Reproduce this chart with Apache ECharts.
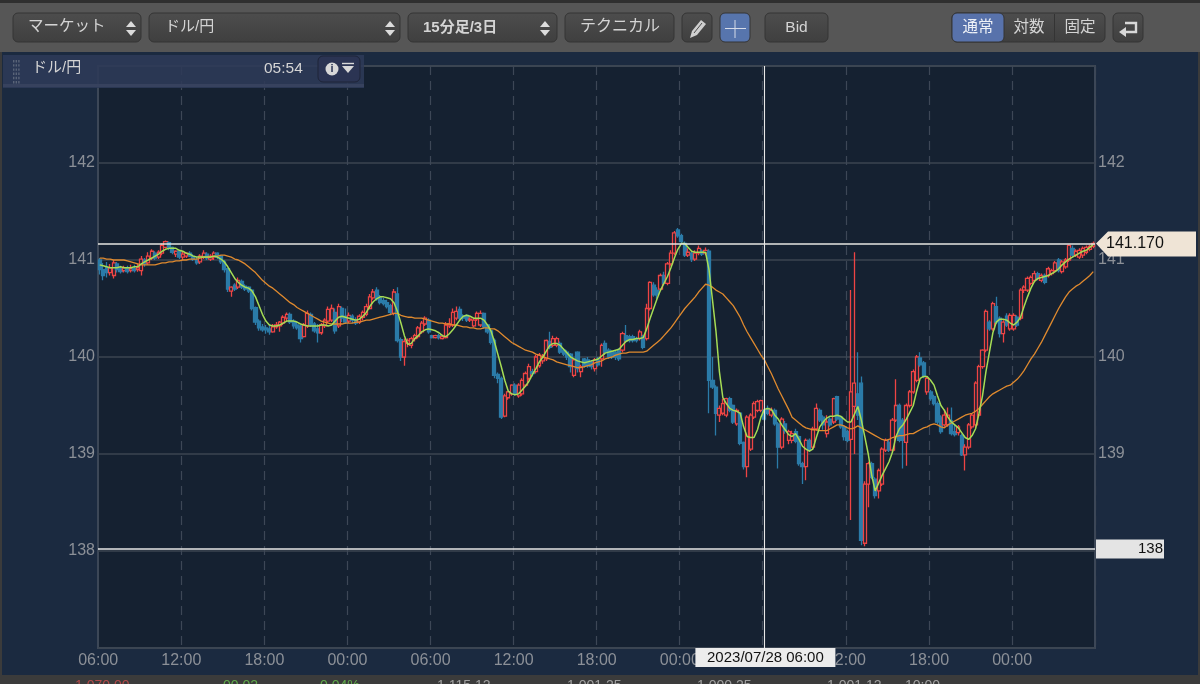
<!DOCTYPE html>
<html><head><meta charset="utf-8">
<style>html,body{margin:0;padding:0;background:#3a3a3a}#c{width:1200px;height:684px}</style>
<script src="https://cdn.jsdelivr.net/npm/echarts@6/dist/echarts.min.js"></script>
</head><body><div id="c"></div>
<script>
const opens=[
141.00,140.90,140.92,140.87,140.84,140.96,140.91,140.89,140.92,140.89,140.91,140.90,140.89,141.00,140.97,141.02,141.07,141.03,141.07,141.13,141.18,141.13,141.06,141.09,
141.03,141.04,141.07,141.04,141.00,140.98,141.03,141.06,141.01,141.03,141.07,141.04,140.98,140.91,140.68,140.74,140.72,140.78,140.73,140.72,140.69,140.51,140.37,140.31,
140.30,140.29,140.26,140.31,140.32,140.35,140.40,140.44,140.37,140.33,140.32,140.21,140.32,140.44,140.34,140.29,140.25,140.32,140.37,140.38,140.46,140.32,140.50,140.42,
140.37,140.42,140.38,140.36,140.41,140.44,140.50,140.61,140.69,140.61,140.58,140.56,140.53,140.45,140.65,140.18,140.00,140.14,140.12,140.19,140.21,140.26,140.34,140.38,
140.22,140.20,140.22,140.19,140.20,140.32,140.33,140.40,140.49,140.42,140.43,140.38,140.32,140.39,140.33,140.45,140.33,140.27,140.17,139.82,139.78,139.39,139.58,139.62,
139.71,139.60,139.62,139.71,139.78,139.85,139.85,139.91,139.96,139.98,140.16,140.12,140.12,140.14,140.07,140.05,140.03,139.81,140.05,139.85,139.98,139.97,139.95,139.88,
139.97,139.98,140.14,140.07,140.05,140.05,140.07,140.07,140.22,140.21,140.21,140.19,140.19,140.21,140.19,140.50,140.74,140.69,140.70,140.84,140.76,140.96,141.07,141.31,
141.25,141.17,141.05,141.07,141.01,141.07,141.09,141.07,141.09,139.76,139.69,139.40,139.42,139.40,139.57,139.50,139.31,139.42,139.12,138.87,139.05,139.38,139.45,139.45,
139.45,139.47,139.40,139.45,139.31,139.07,139.31,139.14,139.14,139.23,139.18,138.90,138.87,139.14,139.07,139.26,139.45,139.38,139.21,139.36,139.33,139.59,139.38,139.28,
139.23,139.15,139.49,139.62,139.73,138.08,138.69,138.90,138.74,138.62,138.69,139.04,139.12,139.04,139.35,139.50,139.35,139.12,139.50,139.64,139.76,139.99,139.94,139.64,
139.64,139.59,139.52,139.38,139.30,139.30,139.34,139.23,139.22,139.19,138.99,139.07,139.28,139.30,139.40,139.90,140.07,140.36,140.29,140.52,140.40,140.24,140.42,140.29,
140.29,140.41,140.40,140.69,140.69,140.76,140.79,140.86,140.79,140.84,140.84,140.86,140.89,141.00,140.88,140.93,141.00,141.12,141.05,141.03,141.05,141.08,141.11,141.14];
const closes=[
140.90,140.84,140.87,140.92,140.97,140.90,140.88,140.92,140.88,140.91,140.89,140.92,141.01,140.96,141.04,141.09,141.02,141.08,141.15,141.19,141.12,141.08,141.09,141.03,
141.06,141.07,141.04,141.01,140.97,141.04,141.07,141.02,141.04,141.07,141.03,140.98,140.90,140.70,140.72,140.70,140.79,140.72,140.70,140.68,140.50,140.36,140.30,140.28,
140.28,140.26,140.31,140.33,140.36,140.41,140.44,140.36,140.32,140.30,140.19,140.33,140.45,140.33,140.27,140.25,140.33,140.38,140.49,140.50,140.27,140.52,140.40,140.36,
140.43,140.38,140.35,140.42,140.46,140.52,140.62,140.67,140.60,140.56,140.55,140.52,140.46,140.67,140.17,140.00,140.16,140.17,140.19,140.22,140.30,140.35,140.40,140.26,
140.20,140.22,140.20,140.21,140.33,140.34,140.46,140.47,140.40,140.40,140.38,140.39,140.38,140.45,140.45,140.31,140.26,140.15,139.81,139.78,139.38,139.60,139.64,139.71,
139.62,139.71,139.76,139.83,139.90,139.83,140.00,140.02,140.00,140.17,140.10,140.19,140.19,140.05,140.03,140.00,139.90,139.97,139.88,139.90,139.91,139.91,139.90,139.97,
139.92,140.12,140.05,140.00,140.00,140.00,139.98,140.24,140.17,140.17,140.17,140.17,140.26,140.10,140.50,140.77,140.64,140.64,140.84,140.76,140.96,141.07,141.28,141.25,
141.19,141.05,141.08,141.01,141.07,141.12,141.06,141.10,139.76,139.69,139.42,139.47,139.52,139.57,139.45,139.33,139.45,139.11,138.87,139.38,139.40,139.52,139.54,139.55,
139.36,139.42,139.45,139.31,139.07,139.36,139.24,139.23,139.21,139.13,138.90,138.87,139.14,139.04,139.26,139.47,139.35,139.30,139.33,139.30,139.57,139.36,139.28,139.18,
139.14,139.64,139.73,139.40,138.11,138.69,138.90,138.76,138.57,138.83,139.05,139.14,139.04,139.35,139.50,139.14,139.14,139.50,139.64,139.85,140.00,139.92,139.80,139.78,
139.57,139.52,139.33,139.23,139.40,139.40,139.21,139.20,139.28,138.99,139.07,139.30,139.40,139.73,139.90,140.07,140.47,140.29,140.55,140.36,140.24,140.36,140.33,140.43,
140.43,140.33,140.69,140.72,140.81,140.82,140.86,140.81,140.84,140.77,140.91,140.89,140.97,140.89,140.98,141.00,141.15,141.05,141.09,141.10,141.12,141.13,141.14,141.17];
const highs=[
141.02,140.97,140.98,140.96,141.00,140.98,140.94,140.94,140.94,140.95,140.95,140.96,141.04,141.02,141.08,141.11,141.09,141.10,141.17,141.20,141.19,141.14,141.10,141.10,
141.09,141.08,141.09,141.06,141.03,141.06,141.10,141.08,141.06,141.09,141.08,141.05,141.00,140.92,140.73,140.76,140.82,140.80,140.75,140.73,140.70,140.52,140.39,140.34,
140.33,140.34,140.34,140.36,140.37,140.43,140.46,140.46,140.39,140.36,140.33,140.35,140.48,140.46,140.36,140.34,140.35,140.40,140.52,140.54,140.50,140.55,140.52,140.50,
140.46,140.44,140.41,140.44,140.48,140.55,140.65,140.70,140.72,140.64,140.61,140.59,140.55,140.70,140.72,140.20,140.19,140.19,140.21,140.24,140.32,140.37,140.42,140.40,
140.23,140.23,140.24,140.23,140.36,140.40,140.50,140.52,140.52,140.44,140.44,140.41,140.40,140.47,140.48,140.46,140.34,140.29,140.19,139.84,139.80,139.62,139.65,139.72,
139.73,139.73,139.78,139.85,139.93,139.88,140.02,140.04,140.03,140.18,140.26,140.22,140.21,140.16,140.09,140.07,140.04,139.98,140.06,139.92,139.99,140.00,139.97,139.99,
140.00,140.14,140.17,140.09,140.07,140.07,140.09,140.26,140.33,140.23,140.23,140.21,140.28,140.23,140.55,140.78,140.77,140.72,140.86,140.88,140.98,141.10,141.30,141.33,
141.27,141.19,141.12,141.09,141.10,141.15,141.11,141.13,141.11,140.00,139.71,139.50,139.57,139.58,139.59,139.51,139.47,139.43,139.13,139.40,139.42,139.54,139.56,139.56,
139.48,139.50,139.48,139.47,139.33,139.38,139.34,139.25,139.24,139.26,139.19,138.92,139.16,139.16,139.28,139.52,139.47,139.40,139.40,139.38,139.58,139.60,139.39,139.30,
139.25,140.69,141.08,140.05,139.80,138.72,138.92,138.92,138.76,138.85,139.07,139.16,139.15,139.37,139.77,139.52,139.37,139.52,139.66,139.87,140.02,140.05,139.96,139.80,
139.66,139.61,139.54,139.40,139.46,139.48,139.48,139.30,139.30,139.21,139.10,139.32,139.42,139.75,139.92,140.08,140.49,140.38,140.57,140.62,140.42,140.38,140.45,140.45,
140.45,140.43,140.71,140.74,140.83,140.84,140.89,140.88,140.86,140.86,140.93,140.91,140.99,141.02,141.00,141.02,141.16,141.15,141.11,141.12,141.14,141.15,141.16,141.19];
const lows=[
140.85,140.79,140.82,140.84,140.81,140.87,140.86,140.87,140.86,140.87,140.87,140.88,140.84,140.93,140.95,141.00,141.00,141.01,141.05,141.12,141.10,141.06,141.03,141.01,
141.00,141.02,141.03,140.99,140.95,140.96,141.01,141.00,140.99,141.00,141.01,140.96,140.87,140.67,140.62,140.68,140.70,140.70,140.68,140.66,140.48,140.33,140.27,140.26,
140.24,140.23,140.25,140.29,140.26,140.33,140.37,140.34,140.29,140.28,140.15,140.20,140.30,140.31,140.25,140.15,140.23,140.30,140.35,140.36,140.24,140.30,140.36,140.34,
140.35,140.35,140.33,140.34,140.38,140.42,140.49,140.59,140.58,140.54,140.53,140.50,140.43,140.43,140.15,139.96,139.91,140.10,140.09,140.16,140.19,140.24,140.32,140.24,
140.19,140.19,140.18,140.18,140.19,140.30,140.31,140.38,140.38,140.37,140.36,140.36,140.31,140.37,140.31,140.29,140.24,140.13,139.78,139.73,139.36,139.38,139.56,139.60,
139.60,139.58,139.60,139.69,139.76,139.80,139.83,139.89,139.93,139.96,140.08,140.10,140.10,140.03,140.01,139.97,139.84,139.79,139.84,139.79,139.89,139.89,139.87,139.85,
139.90,139.90,140.02,139.98,139.98,139.97,139.96,140.05,140.15,140.15,140.15,140.15,140.17,140.08,140.17,140.48,140.62,140.60,140.68,140.74,140.74,140.94,141.05,141.23,
141.17,141.03,141.03,140.98,140.99,141.05,141.04,141.05,139.42,139.67,139.19,139.33,139.40,139.38,139.43,139.31,139.29,139.09,138.84,138.76,139.03,139.36,139.43,139.43,
139.34,139.40,139.38,139.29,138.85,139.05,139.21,139.10,139.11,139.11,138.88,138.69,138.73,139.02,139.05,139.24,139.33,139.25,139.17,139.28,139.31,139.34,139.26,139.14,
139.12,138.32,139.00,139.35,138.06,138.05,138.45,138.74,138.54,138.54,138.67,139.02,139.02,139.02,139.33,139.12,138.85,138.88,139.48,139.62,139.74,139.90,139.78,139.61,
139.55,139.50,139.31,139.21,139.28,139.28,139.19,139.18,139.19,138.98,138.83,139.05,139.26,139.28,139.38,139.88,140.05,140.27,140.27,140.34,140.20,140.15,140.31,140.27,
140.27,140.31,140.38,140.66,140.67,140.74,140.77,140.79,140.77,140.75,140.82,140.84,140.87,140.87,140.86,140.91,140.98,141.03,141.03,141.01,141.02,141.06,141.09,141.12];
const maShort=[
140.95,140.94,140.93,140.92,140.92,140.92,140.93,140.92,140.92,140.92,140.93,140.93,140.96,140.98,141.00,141.02,141.04,141.06,141.09,141.11,141.12,141.12,141.12,141.10,
141.09,141.07,141.06,141.04,141.03,141.03,141.03,141.03,141.03,141.04,141.03,141.01,140.98,140.93,140.87,140.81,140.77,140.74,140.72,140.71,140.68,140.62,140.53,140.44,
140.37,140.33,140.32,140.32,140.33,140.35,140.37,140.37,140.37,140.36,140.34,140.33,140.32,140.32,140.32,140.32,140.33,140.33,140.32,140.33,140.37,140.41,140.42,140.41,
140.40,140.39,140.38,140.39,140.42,140.46,140.52,140.57,140.60,140.62,140.62,140.61,140.60,140.56,140.47,140.35,140.22,140.13,140.14,140.19,140.22,140.26,140.28,140.29,
140.28,140.27,140.25,140.22,140.21,140.24,140.28,140.33,140.38,140.42,140.43,140.42,140.40,140.40,140.40,140.38,140.33,140.27,140.16,140.03,139.90,139.76,139.65,139.62,
139.61,139.62,139.66,139.70,139.75,139.82,139.88,139.95,140.00,140.06,140.12,140.14,140.14,140.12,140.08,140.04,140.00,139.98,139.96,139.95,139.94,139.95,139.96,139.97,
139.98,140.01,140.04,140.05,140.06,140.07,140.08,140.12,140.16,140.18,140.18,140.19,140.19,140.20,140.29,140.40,140.50,140.60,140.69,140.76,140.83,140.92,141.02,141.11,
141.17,141.17,141.13,141.09,141.08,141.08,141.08,141.08,140.90,140.59,140.27,139.85,139.58,139.52,139.47,139.45,139.44,139.42,139.28,139.18,139.17,139.17,139.25,139.38,
139.46,139.47,139.46,139.40,139.36,139.30,139.25,139.20,139.18,139.21,139.15,139.08,139.05,139.03,139.05,139.17,139.28,139.33,139.37,139.39,139.39,139.40,139.39,139.36,
139.33,139.33,139.41,139.49,139.35,139.18,139.00,138.78,138.62,138.70,138.78,138.85,138.92,139.02,139.18,139.26,139.30,139.36,139.43,139.50,139.65,139.78,139.80,139.80,
139.76,139.71,139.60,139.50,139.45,139.38,139.33,139.30,139.27,139.22,139.17,139.15,139.19,139.26,139.42,139.60,139.85,140.05,140.25,140.36,140.39,140.39,140.38,140.35,
140.33,140.36,140.41,140.52,140.62,140.71,140.78,140.81,140.82,140.83,140.84,140.86,140.88,140.91,140.95,140.98,141.01,141.03,141.05,141.07,141.09,141.10,141.13,141.16];
const maLong=[
141.02,141.02,141.01,141.01,141.00,141.00,141.00,141.00,140.99,140.98,140.97,140.96,140.95,140.95,140.95,140.95,140.95,140.96,140.97,140.97,140.98,140.98,140.99,140.99,
141.00,141.00,141.01,141.01,141.01,141.02,141.03,141.03,141.03,141.04,141.04,141.05,141.05,141.04,141.03,141.01,141.00,140.98,140.96,140.93,140.90,140.87,140.83,140.79,
140.76,140.73,140.71,140.68,140.65,140.62,140.59,140.56,140.54,140.51,140.49,140.47,140.45,140.43,140.41,140.39,140.37,140.36,140.35,140.34,140.34,140.34,140.34,140.35,
140.35,140.35,140.36,140.36,140.37,140.38,140.38,140.39,140.40,140.41,140.42,140.43,140.44,140.45,140.45,140.43,140.42,140.41,140.41,140.40,140.40,140.40,140.39,140.38,
140.37,140.36,140.35,140.35,140.34,140.34,140.33,140.33,140.32,140.31,140.31,140.30,140.30,140.29,140.29,140.30,140.30,140.29,140.29,140.27,140.24,140.21,140.18,140.15,
140.13,140.11,140.09,140.07,140.06,140.05,140.03,140.02,140.00,139.99,139.98,139.97,139.95,139.94,139.93,139.92,139.91,139.90,139.89,139.89,139.90,139.91,139.92,139.94,
139.95,139.96,139.98,139.99,140.00,140.02,140.03,140.04,140.04,140.05,140.05,140.05,140.05,140.05,140.06,140.09,140.12,140.15,140.18,140.22,140.26,140.30,140.35,140.40,
140.45,140.50,140.54,140.58,140.62,140.67,140.71,140.75,140.74,140.72,140.69,140.67,140.65,140.61,140.57,140.53,140.47,140.41,140.33,140.26,140.20,140.14,140.08,140.02,
139.97,139.90,139.83,139.75,139.67,139.60,139.53,139.46,139.38,139.35,139.32,139.29,139.27,139.26,139.25,139.25,139.24,139.24,139.24,139.26,139.28,139.30,139.30,139.29,
139.27,139.26,139.27,139.29,139.27,139.25,139.23,139.21,139.19,139.17,139.15,139.14,139.15,139.17,139.18,139.19,139.19,139.20,139.21,139.21,139.23,139.25,139.27,139.28,
139.30,139.31,139.30,139.28,139.27,139.30,139.32,139.34,139.36,139.38,139.40,139.41,139.42,139.44,139.47,139.51,139.55,139.59,139.62,139.64,139.66,139.68,139.70,139.71,
139.74,139.77,139.81,139.86,139.92,139.98,140.03,140.09,140.15,140.22,140.29,140.36,140.43,140.50,140.56,140.62,140.67,140.70,140.73,140.75,140.78,140.81,140.84,140.88];
const categories=opens.map((_,i)=>{const m=(6*60+i*15)%1440;return String(Math.floor(m/60)).padStart(2,'0')+':'+String(m%60).padStart(2,'0');});
const lastPrice=141.17, lowLine=138.02, crossIndex=192, crossLabel='2023/07/28 06:00';

const FONT='"Liberation Sans","Noto Sans CJK JP",sans-serif';
const plotBg='#152131', up='#ee4444', down='#2b7ba8';
const chart=echarts.init(document.getElementById('c'),null,{renderer:'canvas'});
const yAxisBase={type:'value',min:137,max:143,interval:1,
  axisLine:{show:false},axisTick:{show:false},
  axisLabel:{color:'#8c9097',fontSize:16,fontFamily:FONT,margin:3,padding:[2,0,0,0],formatter:v=>(v===137||v===143)?'':String(v)}};
chart.setOption({
  backgroundColor:'#1b2a40',animation:false,
  grid:{left:98,right:105,top:66,bottom:36,show:true,backgroundColor:plotBg,borderColor:'#3c4757',borderWidth:2},
  xAxis:{type:'category',data:categories,boundaryGap:true,
    axisLine:{show:false},axisTick:{show:false},
    axisLabel:{color:'#8c9097',fontSize:16,fontFamily:FONT,margin:5,padding:[0,3,0,0],interval:(i)=>i%24===0},
    splitLine:{show:true,interval:(i)=>i%24===0&&i>0,lineStyle:{color:'#3d4756',type:[9,6],width:1.2}}},
  yAxis:[
    Object.assign({},yAxisBase,{position:'left',splitLine:{show:true,lineStyle:{color:'#3b4451',width:1.6}}}),
    Object.assign({},yAxisBase,{position:'right',splitLine:{show:false}})
  ],
  series:[
    {type:'candlestick',data:opens.map((o,i)=>[o,closes[i],lows[i],highs[i]]),barWidth:3.6,
     itemStyle:{color:plotBg,color0:down,borderColor:up,borderColor0:down,borderWidth:1.3}},
    {type:'line',data:maLong,showSymbol:false,smooth:false,lineStyle:{color:'#e08a2e',width:1.3},z:3},
    {type:'line',data:maShort,showSymbol:false,smooth:false,lineStyle:{color:'#a6dd55',width:1.5},z:4,
     markLine:{silent:true,symbol:'none',animation:false,label:{show:false},data:[
       {yAxis:lastPrice,lineStyle:{color:'#e6e6e2',width:1.6,type:'solid'}},
       {yAxis:lowLine,lineStyle:{color:'#e6e6e6',width:1.6,type:'solid'}},
       {xAxis:crossIndex,lineStyle:{color:'#e8e8e8',width:1.1,type:'solid'}}
     ]}}
  ]
});

/* chrome */
const grad=(a,b)=>({type:'linear',x:0,y:0,x2:0,y2:1,colorStops:[{offset:0,color:a},{offset:1,color:b}]});
const els=[];
const rect=(x,y,w,h,fill,o={})=>els.push({type:'rect',z:o.z||10,silent:true,shape:{x,y,width:w,height:h,r:o.r||0},style:{fill,stroke:o.stroke||null,lineWidth:o.lw||1,opacity:o.op==null?1:o.op}});
const text=(x,y,s,o={})=>els.push({type:'text',z:o.z||50,silent:true,x,y,style:{text:s,fill:o.fill||'#d4d4d4',font:(o.bold?'bold ':'')+(o.size||15)+'px '+(o.font||FONT),textAlign:o.align||'left',textVerticalAlign:'middle',textBaseline:'middle'}});
const poly=(pts,fill,o={})=>els.push({type:'polygon',z:o.z||50,silent:true,shape:{points:pts},style:{fill}});
const line=(a,b,c,d,stroke,lw,z)=>els.push({type:'line',z:z||50,silent:true,shape:{x1:a,y1:b,x2:c,y2:d},style:{stroke,lineWidth:lw||1}});
const btn=(x,w,fill)=>rect(x,13,w,29,fill||grad('#4d4d4d','#3f3f3f'),{r:5,stroke:'#343434',z:40});
const updown=(x)=>{poly([[x,27],[x+5,21],[x+10,27]],'#dcdcdc');poly([[x,30],[x+5,36],[x+10,30]],'#dcdcdc');};

rect(0,0,1200,52,'#565656');
rect(0,0,1200,3,'#2f2f2f');
rect(0,52,2,623,'#3b3b3b');
rect(1198,52,2,623,'#3b3b3b');
rect(0,675,1200,9,'#3b3b3b');

btn(13,128);text(28,27,'マーケット',{size:15.5});updown(126);
btn(149,251);text(165,27,'ドル/円',{size:15});updown(385);
btn(408,149);text(423,27.5,'15分足/3日',{size:15,bold:true});updown(540);
btn(565,109);text(580,27,'テクニカル',{size:16});
btn(682,30);
els.push({type:'polygon',z:50,silent:true,shape:{points:[[690,38],[692,31],[701,20],[706,24],[697,35]]},style:{fill:'#cfcfcf'}});
line(694,33,702,23,'#4a4a4a',1);
btn(720,30,'#5775ad');line(735,20,735,38,'#d5dbe8',1);line(725,28.5,746,28.5,'#d5dbe8',1);
btn(765,63);text(796.5,27.5,'Bid',{size:15.5,align:'center'});
btn(952,153);
rect(952,13,52,29,'#5872ab',{r:5,stroke:'#343434',z:41});
line(1054.5,14,1054.5,41,'#343434',1);
text(978,27.5,'通常',{size:15.5,align:'center',fill:'#eef1f7'});
text(1029,27.5,'対数',{size:15.5,align:'center'});
text(1080,27.5,'固定',{size:15.5,align:'center'});
btn(1113,30);
els.push({type:'polyline',z:50,silent:true,shape:{points:[[1125,23],[1136,23],[1136,32],[1124,32]]},style:{fill:null,stroke:'#d8d8d8',lineWidth:2.4}});
poly([[1119,32],[1126,27],[1126,37]],'#d8d8d8');

/* symbol header */
rect(3,55,361,33,'#2e3a58',{z:30,op:0.88});
rect(3,84,361,3,'#39445f',{z:31,op:0.9});
for(let k=0;k<6;k++){for(let m=0;m<3;m++){rect(13+m*2.6,60+k*4.2,1.4,2.4,'#5a6478',{z:32});}}
text(32,67.5,'ドル/円',{size:15,z:50});
text(264,68.5,'05:54',{size:15.5,z:50});
rect(318,56,42,26,'#2b3453',{r:5,stroke:'#1e2438',z:40});
els.push({type:'circle',z:50,silent:true,shape:{cx:332,cy:69,r:6.5},style:{fill:'#d8d8d8'}});
text(332,69,'i',{size:11,bold:true,align:'center',fill:'#2b3453',z:51});
line(342,63.5,354,63.5,'#d8d8d8',1.4);
poly([[342,66],[354,66],[348,73]],'#d8d8d8');

/* price & time tags, placed through the chart's own scales */
const yLast=chart.convertToPixel({yAxisIndex:0},lastPrice);
const yLow=chart.convertToPixel({yAxisIndex:0},lowLine);
const xCross=chart.convertToPixel({xAxisIndex:0},crossIndex);
poly([[1096,yLast],[1108,yLast-12],[1196,yLast-12],[1196,yLast+13],[1108,yLast+13]],'#efe4d6',{z:60});
text(1106,yLast,'141.170',{size:16,fill:'#111',z:61});
rect(1096,yLow-9.5,68,19,'#e4e4e4',{z:60});
text(1163,yLow,'138',{size:15,align:'right',fill:'#111',z:61});
rect(xCross-69,648,140,19,'#ececec',{z:60});
text(xCross+1,658,crossLabel,{size:15,align:'center',fill:'#111',z:61});

/* clipped row of the window underneath */
[[75,'1,070.00','#b04a4a'],[223,'00.02','#5fa84a'],[320,'0.04%','#5fa84a'],[437,'1,115.12','#a0a0a0'],[567,'1,001.25','#a0a0a0'],[697,'1,000.25','#a0a0a0'],[827,'1,001.12','#a0a0a0'],[905,'10:00','#a0a0a0']]
 .forEach(r=>text(r[0],686,r[1],{size:14,fill:r[2],z:12}));

chart.setOption({graphic:{elements:els}});
</script></body></html>
